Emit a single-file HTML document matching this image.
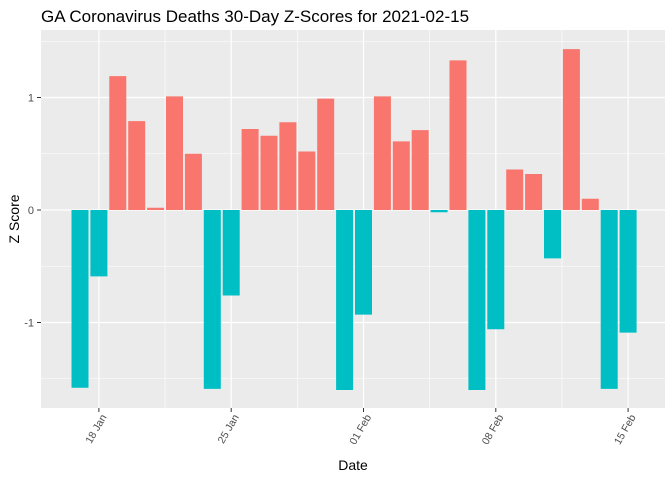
<!DOCTYPE html>
<html><head><meta charset="utf-8"><style>
html,body{margin:0;padding:0;background:#fff;}
svg{display:block;font-family:"Liberation Sans",sans-serif;}
</style></head><body>
<svg id="chart" width="672" height="480" viewBox="0 0 672 480">
<rect x="0" y="0" width="672" height="480" fill="#fff"/>
<text x="41" y="22" font-size="17" fill="#000">GA Coronavirus Deaths 30-Day Z-Scores for 2021-02-15</text>
<rect x="41" y="30" width="624" height="378" fill="#EBEBEB"/>
<g id="grid"></g>
<g id="bars"></g>
<g id="axes"></g>
<text x="353" y="470" font-size="14" text-anchor="middle" fill="#000">Date</text>
<text transform="translate(19,219) rotate(-90)" font-size="14" text-anchor="middle" fill="#000">Z Score</text>
</svg>
<script>
const dayIndex = [0,1,2,3,4,5,6,7,8,9,10,11,12,13,14,15,16,17,18,19,20,21,22,23,24,25,26,27,28,29];
const zScores = [-1.58,-0.59,1.19,0.79,0.02,1.01,0.50,-1.59,-0.76,0.72,0.66,0.78,0.52,0.99,-1.60,-0.93,1.01,0.61,0.71,-0.02,1.33,-1.60,-1.06,0.36,0.32,-0.43,1.43,0.10,-1.59,-1.09];
const xTickDays = [1,8,15,22,29];
const xTickLabels = ["18 Jan","25 Jan","01 Feb","08 Feb","15 Feb"];
const yTicks = [-1,0,1];
const yMinor = [-1.5,-0.5,0.5,1.5];

const NS="http://www.w3.org/2000/svg";
const x = d => 80 + d*18.9;
const y = v => 210 - v*112.5;
const panelL=41, panelR=665, panelT=30, panelB=408;
function mk(tag, attrs, parent){const e=document.createElementNS(NS,tag);for(const k in attrs)e.setAttribute(k,attrs[k]);parent.appendChild(e);return e;}
const grid=document.getElementById('grid'), bars=document.getElementById('bars'), axes=document.getElementById('axes');

yMinor.forEach(v=>{const l=mk('line',{x1:panelL,x2:panelR,y1:y(v),y2:y(v),stroke:'#fff','stroke-width':0.6},grid);

});
for(let i=0;i<xTickDays.length-1;i++){const xm=(x(xTickDays[i])+x(xTickDays[i+1]))/2;
const l=mk('line',{x1:xm,x2:xm,y1:panelT,y2:panelB,stroke:'#fff','stroke-width':0.6},grid);

}
yTicks.forEach(v=>{const l=mk('line',{x1:panelL,x2:panelR,y1:y(v),y2:y(v),stroke:'#fff','stroke-width':1.2},grid);


const t=mk('line',{x1:panelL-4,x2:panelL,y1:y(v),y2:y(v),stroke:'#333','stroke-width':1},axes);


const tx=mk('text',{x:panelL-7,y:y(v)+4,'font-size':11,'text-anchor':'end',fill:'#4D4D4D'},axes);
tx.textContent=String(v);

});
xTickDays.forEach((d,i)=>{const l=mk('line',{x1:x(d),x2:x(d),y1:panelT,y2:panelB,stroke:'#fff','stroke-width':1.2},grid);


const t=mk('line',{x1:x(d),x2:x(d),y1:panelB,y2:panelB+4,stroke:'#333','stroke-width':1},axes);


const tx=mk('text',{transform:`translate(${x(d)+8},${panelB+9}) rotate(-60)`,'font-size':10.5,'text-anchor':'end',fill:'#4D4D4D'},axes);
tx.textContent=xTickLabels[i];

});
const bw=17;
dayIndex.forEach((d,i)=>{const v=zScores[i];const y0=y(0),y1=y(v);
const r=mk('rect',{x:x(d)-bw/2,y:Math.min(y0,y1),width:bw,height:Math.max(Math.abs(y1-y0),0.5),fill:v>=0?'#F8766D':'#00BFC4'},bars);

});
</script>
</body></html>
